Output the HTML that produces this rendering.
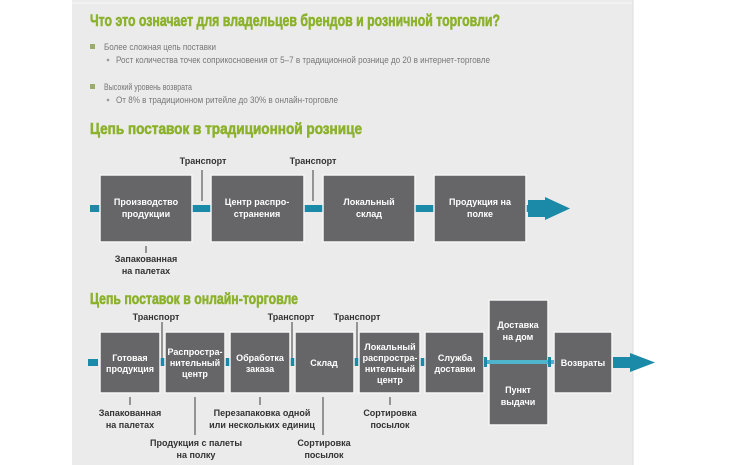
<!DOCTYPE html>
<html><head><meta charset="utf-8"><style>
html,body{margin:0;padding:0;background:#fff;width:750px;height:465px;overflow:hidden}
svg{display:block}
text{font-family:"Liberation Sans",sans-serif}
.h{fill:#8cb22c;font-weight:bold;stroke:#8cb22c;stroke-width:0.6}
.b{fill:#777;font-size:9px}
.w{fill:#fff;font-weight:bold;font-size:9px}
.k{fill:#333;font-weight:bold;font-size:9px}
.bx{fill:#666567;stroke:#f4f4f4;stroke-width:1.5}
.c{fill:#1a8aa8}
.ln{stroke:#777;stroke-width:1.5}
</style></head><body>
<svg width="750" height="465" viewBox="0 0 750 465">
<rect x="72" y="0" width="561" height="465" fill="#ebebeb"/>
<line x1="72" y1="3" x2="633" y2="3" stroke="#f8f8f8" stroke-width="1"/>
<line x1="633" y1="0" x2="633" y2="465" stroke="#dcdcdc"/>

<text class="h" x="90" y="26" font-size="17" textLength="410" lengthAdjust="spacingAndGlyphs">Что это означает для владельцев брендов и розничной торговли?</text>
<rect x="90" y="44" width="5" height="5" fill="#9aab6c"/>
<text class="b" x="104" y="50" textLength="112" lengthAdjust="spacingAndGlyphs">Более сложная цепь поставки</text>
<circle cx="108" cy="60" r="1.3" fill="#999"/>
<text class="b" x="116" y="63" textLength="374" lengthAdjust="spacingAndGlyphs">Рост количества точек соприкосновения от 5–7 в традиционной рознице до 20 в интернет-торговле</text>
<rect x="90" y="84" width="5" height="5" fill="#9aab6c"/>
<text class="b" x="104" y="90" textLength="88" lengthAdjust="spacingAndGlyphs">Высокий уровень возврата</text>
<circle cx="108" cy="100" r="1.3" fill="#999"/>
<text class="b" x="116" y="103" textLength="222" lengthAdjust="spacingAndGlyphs">От 8% в традиционном ритейле до 30% в онлайн-торговле</text>

<text class="h" x="90" y="134" font-size="16" textLength="272" lengthAdjust="spacingAndGlyphs">Цепь поставок в традиционной рознице</text>

<!-- row 1 -->
<rect class="c" x="90" y="205" width="445" height="7"/>
<polygon class="c" points="528,200 545,200 545,197 570,208.5 545,220 545,217 528,217"/>
<rect class="bx" x="100" y="175" width="92" height="67"/>
<rect class="bx" x="211" y="175" width="93" height="67"/>
<rect class="bx" x="323" y="175" width="92" height="67"/>
<rect class="bx" x="434" y="175" width="92" height="67"/>
<text class="w" text-anchor="middle" x="146" y="205">Производство</text>
<text class="w" text-anchor="middle" x="146" y="217">продукции</text>
<text class="w" text-anchor="middle" x="257" y="205">Центр распро-</text>
<text class="w" text-anchor="middle" x="257" y="217">странения</text>
<text class="w" text-anchor="middle" x="369" y="205">Локальный</text>
<text class="w" text-anchor="middle" x="369" y="217">склад</text>
<text class="w" text-anchor="middle" x="480" y="205">Продукция на</text>
<text class="w" text-anchor="middle" x="480" y="217">полке</text>
<line class="ln" x1="202" y1="170" x2="202" y2="201"/>
<line class="ln" x1="313" y1="170" x2="313" y2="201"/>
<text class="k" text-anchor="middle" x="203" y="164">Транспорт</text>
<text class="k" text-anchor="middle" x="313" y="164">Транспорт</text>
<line class="ln" x1="146" y1="246" x2="146" y2="253"/>
<text class="k" text-anchor="middle" x="146" y="262">Запакованная</text>
<text class="k" text-anchor="middle" x="146" y="274">на палетах</text>

<text class="h" x="90" y="304" font-size="16" textLength="208" lengthAdjust="spacingAndGlyphs">Цепь поставок в онлайн-торговле</text>

<!-- row 2 -->
<rect class="c" x="88" y="359" width="10" height="7"/>
<rect class="c" x="160" y="358" width="6" height="8"/>
<rect class="c" x="225" y="358" width="6" height="8"/>
<rect class="c" x="290" y="358" width="6" height="8"/>
<rect class="c" x="354" y="358" width="6" height="8"/>
<rect class="c" x="420" y="358" width="6" height="8"/>
<rect class="bx" x="100" y="332" width="60" height="61"/>
<rect class="bx" x="165" y="332" width="60" height="61"/>
<rect class="bx" x="230" y="332" width="60" height="61"/>
<rect class="bx" x="295" y="332" width="59" height="61"/>
<rect class="bx" x="359" y="332" width="61" height="61"/>
<rect class="bx" x="425" y="332" width="59" height="61"/>
<rect class="bx" x="489" y="300" width="59" height="62"/>
<rect class="bx" x="489" y="362" width="59" height="63"/>
<rect class="bx" x="554" y="332" width="58" height="61"/>
<rect fill="#4fb4cc" x="484" y="360" width="70" height="4"/>
<rect class="c" x="484" y="357" width="3" height="10"/>
<rect class="c" x="548" y="357" width="3" height="10"/>
<polygon class="c" points="613,357 630,357 630,353 655,362.5 630,372 630,368 613,368"/>
<text class="w" text-anchor="middle" x="130" y="361">Готовая</text>
<text class="w" text-anchor="middle" x="130" y="372">продукция</text>
<text class="w" text-anchor="middle" x="195" y="355">Распростра-</text>
<text class="w" text-anchor="middle" x="195" y="366">нительный</text>
<text class="w" text-anchor="middle" x="195" y="377">центр</text>
<text class="w" text-anchor="middle" x="260" y="361">Обработка</text>
<text class="w" text-anchor="middle" x="260" y="372">заказа</text>
<text class="w" text-anchor="middle" x="324" y="366">Склад</text>
<text class="w" text-anchor="middle" x="390" y="350" font-size="8.5">Локальный</text>
<text class="w" text-anchor="middle" x="390" y="361" font-size="8.5">распростра-</text>
<text class="w" text-anchor="middle" x="390" y="372" font-size="8.5">нительный</text>
<text class="w" text-anchor="middle" x="390" y="383" font-size="8.5">центр</text>
<text class="w" text-anchor="middle" x="455" y="361">Служба</text>
<text class="w" text-anchor="middle" x="455" y="372">доставки</text>
<text class="w" text-anchor="middle" x="518" y="328">Доставка</text>
<text class="w" text-anchor="middle" x="518" y="340">на дом</text>
<text class="w" text-anchor="middle" x="518" y="393">Пункт</text>
<text class="w" text-anchor="middle" x="518" y="405">выдачи</text>
<text class="w" text-anchor="middle" x="583" y="366">Возвраты</text>

<line class="ln" x1="162" y1="322" x2="162" y2="358"/>
<line class="ln" x1="292" y1="322" x2="292" y2="358"/>
<line class="ln" x1="357" y1="322" x2="357" y2="358"/>
<text class="k" text-anchor="middle" x="156" y="320">Транспорт</text>
<text class="k" text-anchor="middle" x="291" y="320">Транспорт</text>
<text class="k" text-anchor="middle" x="357" y="320">Транспорт</text>

<line class="ln" x1="130" y1="397" x2="130" y2="405"/>
<text class="k" text-anchor="middle" x="130" y="416">Запакованная</text>
<text class="k" text-anchor="middle" x="130" y="428">на палетах</text>
<line class="ln" x1="195" y1="397" x2="195" y2="435"/>
<text class="k" text-anchor="middle" x="196" y="446">Продукция с палеты</text>
<text class="k" text-anchor="middle" x="196" y="458">на полку</text>
<line class="ln" x1="260" y1="397" x2="260" y2="405"/>
<text class="k" text-anchor="middle" x="262" y="416">Перезапаковка одной</text>
<text class="k" text-anchor="middle" x="262" y="428">или нескольких единиц</text>
<line class="ln" x1="323" y1="397" x2="323" y2="435"/>
<text class="k" text-anchor="middle" x="324" y="446">Сортировка</text>
<text class="k" text-anchor="middle" x="324" y="458">посылок</text>
<line class="ln" x1="390" y1="397" x2="390" y2="405"/>
<text class="k" text-anchor="middle" x="390" y="416">Сортировка</text>
<text class="k" text-anchor="middle" x="390" y="428">посылок</text>
</svg>
</body></html>
